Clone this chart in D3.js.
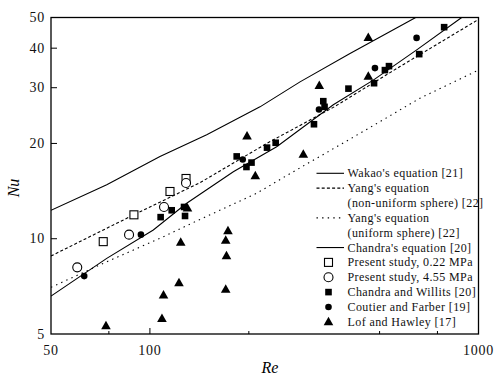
<!DOCTYPE html>
<html><head><meta charset="utf-8">
<script src="https://cdn.jsdelivr.net/npm/d3@7"></script>
<style>body{margin:0;background:#fff}svg{display:block}
svg text{font-family:"Liberation Serif","DejaVu Serif","Times New Roman",serif;}</style>
</head><body>
<svg id="c" width="500" height="379"></svg>
<script>
// ---- data (Re, Nu) ----
const xTicksMajor = [100];
const xTicksMinor = [75, 200, 500, 750];
const xTickLabels = [50, 100, 1000];
const yTicks = [10, 20, 30, 40];
const yTickLabels = [5, 10, 20, 30, 40, 50];

const wakaoLine = [[50,12.3],[73.9,14.8],[107.3,18.2],[148.9,21.3],[216.3,26.1],[286.3,31.3],[406.4,38.5],[644,50]];
const yangNonUniform = [[50,8.82],[89.0,11.88],[142.0,15.03],[226.7,20.0],[361.5,26.0],[576.9,35.0],[1000,49.3]];
const yangUniform = [[50,7.02],[72.1,8.36],[107.3,10.03],[138.8,11.38],[211.4,13.92],[273.1,16.28],[445.1,21.8],[663.6,27.8],[1000,34.1]];
const chandraLine = [[50,6.59],[73.9,8.67],[102.4,10.66],[129.4,12.94],[179.4,16.28],[243.1,19.53],[361.5,26.5],[478.4,31.7],[648.6,39.5],[888.9,50]];

const present022 = [[72.1,9.79],[89.4,11.9],[115.1,14.1],[128.8,15.5]];
const present455 = [[60.1,8.12],[86.4,10.3],[110.4,12.6],[128.8,15.0]];
const chandraWillits = [[107.8,11.7],[116.5,12.3],[127.0,12.6],[127.9,11.8],[183.7,18.2],[196.7,16.85],[203.8,17.4],[227.2,19.4],[241.4,20.1],[315.7,23.0],[337,27.2],[340,26.1],[402,29.8],[481,31.0],[519,34.1],[534,35.1],[660,38.3],[786,46.6]];
const coutierFarber = [[63.1,7.62],[93.9,10.3],[191.6,17.8],[327,25.6],[484,34.6],[648,43.1]];
const lofHawley = [[73.5,5.31],[108.8,5.6],[110.0,6.64],[122.6,7.26],[124.1,9.74],[130.1,12.5],[170.1,6.92],[171.0,8.83],[170.1,9.89],[172.8,10.6],[197.5,21.1],[209.3,15.8],[293,18.5],[327.7,30.5],[462,32.6],[462,43.2]];

const legendLabels = ["Wakao's equation [21]","Yang's equation","(non-uniform sphere) [22]","Yang's equation","(uniform sphere) [22]","Chandra's equation [20]","Present study, 0.22 MPa","Present study, 4.55 MPa","Chandra and Willits [20]","Coutier and Farber [19]","Lof and Hawley [17]"];

// ---- drawing ----
const svg = d3.select("#c");
const L = 51, R = 478.5, T = 17.5, B = 334;
const x = d3.scaleLog().domain([50,1000]).range([L,R]);
const y = d3.scaleLog().domain([5,50]).range([B,T]);

svg.append("defs").append("clipPath").attr("id","clip")
  .append("rect").attr("x",L).attr("y",T).attr("width",R-L).attr("height",B-T);

const line = d3.line().x(d=>x(d[0])).y(d=>y(d[1]));
const g = svg.append("g").attr("clip-path","url(#clip)");
const lines = [
  {d:wakaoLine, dash:null},
  {d:yangNonUniform, dash:"3,2.2"},
  {d:yangUniform, dash:"1.4,4.2"},
  {d:chandraLine, dash:null}
];
lines.forEach(l=>{
  g.append("path").attr("d",line(l.d)).attr("fill","none").attr("stroke","#000")
   .attr("stroke-width",1.1).attr("stroke-dasharray",l.dash);
});

// markers
function drawMarker(sel, type, cx, cy){
  if(type==="osq") sel.append("rect").attr("x",cx-4).attr("y",cy-4).attr("width",8).attr("height",8).attr("fill","#fff").attr("stroke","#000").attr("stroke-width",1.1);
  else if(type==="oci") sel.append("circle").attr("cx",cx).attr("cy",cy).attr("r",4.5).attr("fill","#fff").attr("stroke","#000").attr("stroke-width",1.1);
  else if(type==="fsq") sel.append("rect").attr("x",cx-3.3).attr("y",cy-3.3).attr("width",6.6).attr("height",6.6).attr("fill","#000");
  else if(type==="fci") sel.append("circle").attr("cx",cx).attr("cy",cy).attr("r",3.3).attr("fill","#000");
  else if(type==="tri") sel.append("path").attr("d",`M${cx},${cy-5}L${cx+4.8},${cy+3.5}L${cx-4.8},${cy+3.5}Z`).attr("fill","#000");
}
const series = [
  {d:present022, t:"osq"},
  {d:present455, t:"oci"},
  {d:chandraWillits, t:"fsq"},
  {d:coutierFarber, t:"fci"},
  {d:lofHawley, t:"tri"}
];
const mg = svg.append("g");
series.forEach(s=>s.d.forEach(p=>drawMarker(mg, s.t, x(p[0]), y(p[1]))));

// frame
svg.append("rect").attr("x",L).attr("y",T).attr("width",R-L).attr("height",B-T)
  .attr("fill","none").attr("stroke","#000").attr("stroke-width",1.3);

// ticks
const ax = svg.append("g").attr("stroke","#000").attr("stroke-width",1);
xTicksMajor.forEach(v=>ax.append("line").attr("x1",x(v)).attr("x2",x(v)).attr("y1",B).attr("y2",B-6));
xTicksMinor.forEach(v=>ax.append("line").attr("x1",x(v)).attr("x2",x(v)).attr("y1",B).attr("y2",B-3));
yTicks.forEach(v=>ax.append("line").attr("x1",L).attr("x2",L+6).attr("y1",y(v)).attr("y2",y(v)));

// tick labels
svg.append("g").selectAll("text").data(xTickLabels).join("text")
  .attr("x",d=>x(d)).attr("y",355).attr("text-anchor","middle")
  .attr("font-size",14).attr("letter-spacing",0.8).attr("fill","#111").text(d=>d);
svg.append("g").selectAll("text").data(yTickLabels).join("text")
  .attr("x",45).attr("y",d=>y(d)+4.5).attr("text-anchor","end")
  .attr("font-size",14).attr("letter-spacing",0.8).attr("fill","#111").text(d=>d);

// axis titles
svg.append("text").attr("x",270).attr("y",373).attr("text-anchor","middle")
  .attr("font-style","italic").attr("font-size",16).text("Re");
svg.append("text").attr("transform","translate(19,188) rotate(-90)").attr("text-anchor","middle")
  .attr("font-style","italic").attr("font-size",16).text("Nu");

// legend
const legY0 = 173.3, legDY = 14.85;
const lg = svg.append("g");
const legendKeys = [
  {k:"line", dash:null},{k:"line", dash:"3,2.2"},{k:null},{k:"line", dash:"1.4,4.2"},{k:null},
  {k:"line", dash:null},{k:"osq"},{k:"oci"},{k:"fsq"},{k:"fci"},{k:"tri"}
];
legendLabels.forEach((lab,i)=>{
  const yy = legY0 + i*legDY;
  const key = legendKeys[i];
  if(key.k==="line") lg.append("line").attr("x1",316.5).attr("x2",344).attr("y1",yy).attr("y2",yy)
     .attr("stroke","#000").attr("stroke-width",1.1).attr("stroke-dasharray",key.dash);
  else if(key.k) drawMarker(lg, key.k, 328.5, yy);
  lg.append("text").attr("x",347.5).attr("y",yy+4)
    .attr("font-size",12).attr("letter-spacing",0.4).attr("fill","#111").text(lab);
});
</script>
</body></html>
